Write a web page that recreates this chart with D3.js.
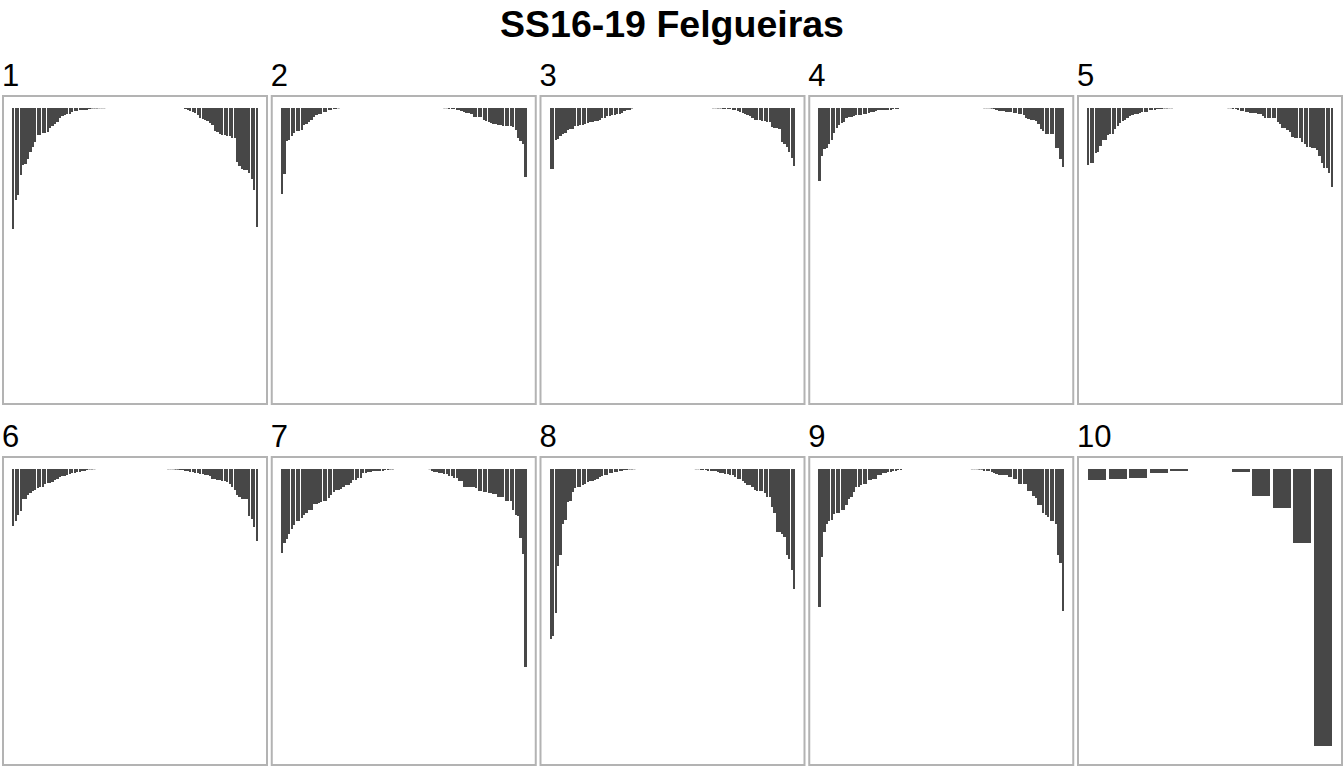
<!DOCTYPE html>
<html><head><meta charset="utf-8">
<script src="https://cdn.jsdelivr.net/npm/d3@7"></script>
<style>body{margin:0;background:#fff} svg{display:block}</style>
</head><body><svg id="c" width="1344" height="768"></svg>
<script>
const title = "SS16-19 Felgueiras";
const panelNames = ["1","2","3","4","5","6","7","8","9","10"];

// Panels 1-9: values of the ranked categories, leading (left) and trailing (right) runs
const p1Left = [121,92,87,67,57,56,51,44,39,34,27,27,25,25,24,20,18,16,14,10,8,7,6,6,4,3,3,2.3,2.3,1.7,1.5,1,0.5,0.5,0.5,0.3,0.3,0.3];
const p1Right = [1.3,1.8,2.5,3.5,5,7,9.5,11,12,13,15,17,23,24,26,27,27,28,28,30,30,54,58,61,62,62,65,71,82,119];
const p2Left = [86,66,33,32,28,25,23,23,22,17,16,14,12,9,7,6,6,4,4,2,2,1,1,0.4];
const p2Right = [0.3,0.3,1,1,1,2,2,3,4,5,5,6,9,9,9,9,12,13,14,15,16,16,17,17,18,18,18,18,19,22,30,33,36,69];
const p3Left = [61,61,32,31,28,26,25,22,21,21,18,18,17,17,16,15,14,14,13,13,12,10,10,8,8,7,7,6,6,5,3,2,2,0.5];
const p3Right = [0.3,0.3,0.5,0.5,1,1,1.3,1.3,2,2,3,4,5,6,7,8,10,12,12,12,13,13,14,14,19,20,20,21,34,36,39,44,50,58];
const p4Left = [73,48,41,40,36,32,25,20,17,15,14,10,9,9,8,7,7,7,6,6,5,4,4,3,2.3,2.3,2.3,2,2,2,1,1,1];
const p4Right = [0.3,0.3,0.3,0.7,1,2,3,3,3,4,4,4,4.5,5,6,6,7,10,11,12,12,13,16,21,23,26,26,26,26,40,40,51,59];
const p5Left = [57,55,55,45,44,38,32,32,27,26,26,21,18,15,13,12,10,8,7,6,6,5,4,4,4,2,2,2,1,1,1,0.5,0.5,0.3,0.3];
const p5Right = [0.3,0.3,1,1,2,3,3,4,4,5,5,5,6,6,8,10,10,10,10,10,14,16,20,20,22,24,29,30,30,30,34,36,39,39,40,40,42,48,55,60,60,65,79];
const p6Left = [57,52,46,42,30,30,26,24,22,21,19,18,18,15,14,14,13,11,10,8,7,7,6,5,4,4,3,3,2,2,1,0.5,0.5,0.3];
const p6Right = [0.3,0.3,0.3,0.7,0.7,1,1,2,2,3,3,4,4,5,5,6,6,7,10,10,11,11,12,12,13,15,18,21,26,28,30,30,30,47,50,58,72];
const p7Left = [84,74,70,65,60,56,52,52,49,46,44,41,41,35,35,34,33,32,32,29,26,23,21,21,20,18,16,16,14,11,11,9,9,4,4,3,3,2.3,2.3,2.3,1.7,1.7,1,1,0.5,0.5];
const p7Right = [0.3,2,3,3,4,4,5,5,7,7,9,9,12,12,18,18,18,18,18,19,22,22,23,23,24,24,25,25,28,28,28,32,32,32,41,46,47,69,85,198];
const p8Left = [170,167,144,97,86,55,51,33,32,23,19,18,18,16,15,13,12,12,11,10,8,7,6,6,4,4,3,3,2.3,2.3,1,1,0.5,0.5,0.3];
const p8Right = [0.3,0.3,1,1,1,2,2,2,2,3,4,4,5,5,6,6,8,10,10,12,14,16,16,18,21,22,22,22,24,28,28,38,44,63,63,65,68,86,90,101,120];
const p9Left = [138,88,63,55,52,51,45,44,44,41,41,36,30,28,23,18,18,16,15,15,11,11,10,10,6,6,4,4,3,3,2,2,1,1];
const p9Right = [0.3,0.3,0.3,0.7,0.7,2,2,2,3,4,5,6,6,6,6,8,8,10,10,15,15,15,15,22,22,27,29,36,36,44,46,48,52,52,55,86,94,142];

// Panel 10: twelve categories
const p10Cats = ["c1","c2","c3","c4","c5","c6","c7","c8","c9","c10","c11","c12"];
const p10Values = [11,10,9,4,2,0,0,3,27,39,74,277];

const nRanks = 100;
const ranks = d3.range(1, nRanks + 1);
function fullSeries(left, right) {
  const mid = nRanks - left.length - right.length;
  return left.concat(new Array(mid).fill(0), right);
}

const series = [
  [p1Left,p1Right],[p2Left,p2Right],[p3Left,p3Right],[p4Left,p4Right],[p5Left,p5Right],
  [p6Left,p6Right],[p7Left,p7Right],[p8Left,p8Right],[p9Left,p9Right]
];
const panels = series.map((s,i)=>({name:panelNames[i], cats:ranks, vals:fullSeries(s[0],s[1])}));
panels.push({name:panelNames[9], cats:p10Cats, vals:p10Values});

const W = 1344, H = 768;
const FONT = "'Liberation Sans', Arial, Helvetica, sans-serif";
const svg = d3.select("#c");
svg.append("rect").attr("width",W).attr("height",H).attr("fill","#fff");
svg.append("text").attr("x",672).attr("y",37).attr("text-anchor","middle")
  .attr("font-family",FONT).attr("font-weight","bold").attr("font-size",37.5)
  .attr("fill","#000").text(title);

const panelW = 266, panelH = 310, colStep = 268.75, rowY = [95, 456];
const yMax = d3.max(panels.flatMap(p=>p.vals));
const y = d3.scaleLinear().domain([0, yMax]).range([13, 290]);

panels.forEach((p,i)=>{
  const col = i % 5, row = Math.floor(i/5);
  const px = 2 + col*colStep, py = rowY[row];
  const g = svg.append("g").attr("transform",`translate(${px},${py})`);
  g.append("text").attr("x",0).attr("y",-9)
    .attr("font-family",FONT).attr("font-size",31).attr("fill","#000").text(p.name);
  const x = d3.scaleBand().domain(p.cats).range([10, panelW-10]).paddingInner(0.1).paddingOuter(0.05);
  const data = p.cats.map((c,k)=>({c, v:p.vals[k]})).filter(d=>d.v>0);
  g.selectAll("rect.bar").data(data).join("rect").attr("class","bar")
    .attr("x", d=>x(d.c)).attr("width", x.bandwidth())
    .attr("y", y(0)).attr("height", d=>y(d.v)-y(0))
    .attr("fill","#474747")
    .attr("shape-rendering", d=> d.v >= 1 ? "crispEdges" : "auto");
  g.append("rect").attr("x",1).attr("y",1).attr("width",panelW-2).attr("height",panelH-2)
    .attr("fill","none").attr("stroke","#b3b3b3").attr("stroke-width",2);
});
</script>
</body></html>
